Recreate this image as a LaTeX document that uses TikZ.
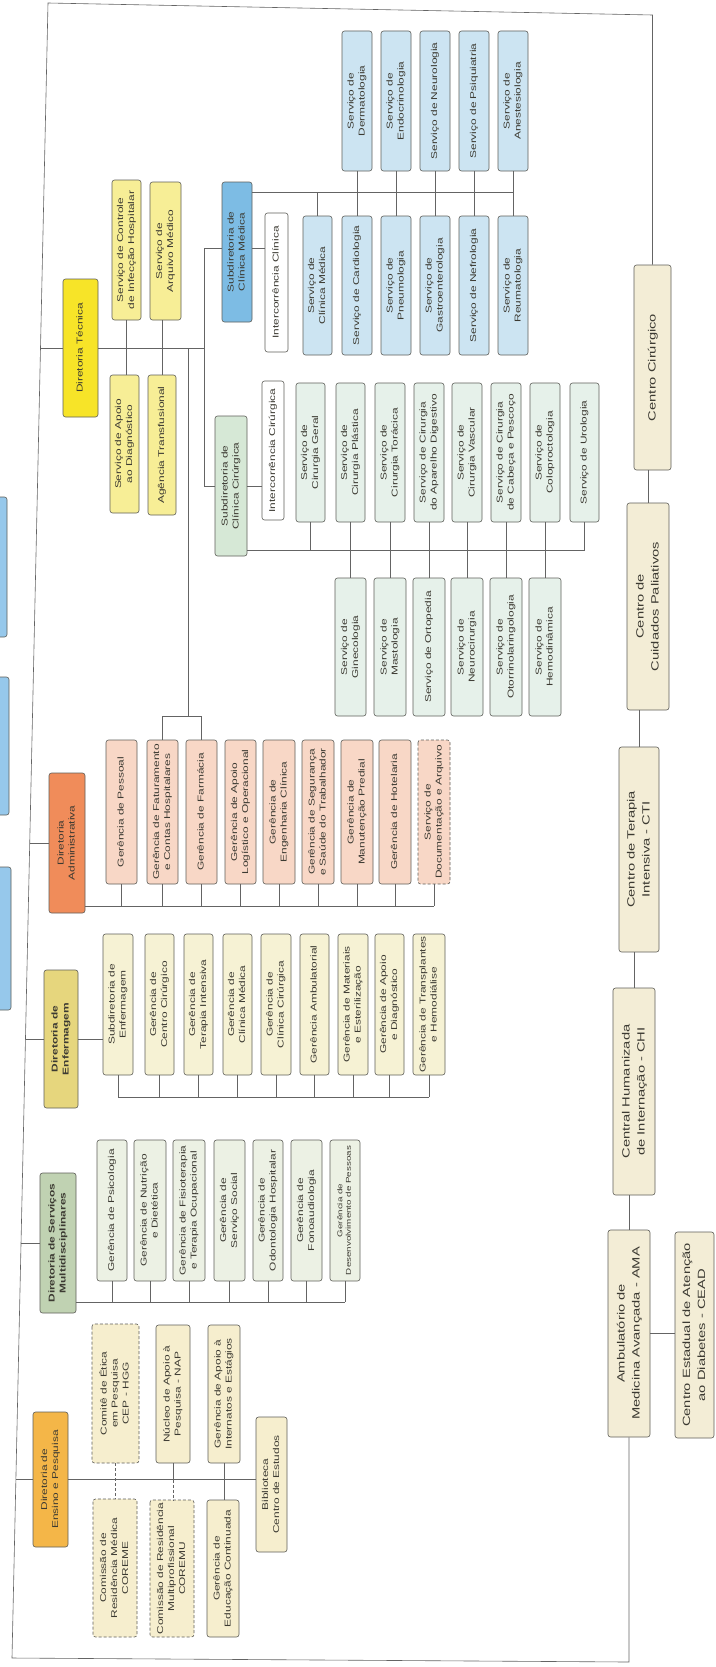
\documentclass[tikz,border=0pt]{standalone}
\usepackage{fontspec}
\usepackage{graphicx}
\setmainfont{Liberation Sans}
\usetikzlibrary{calc}
\definecolor{cDT}{RGB}{247,228,40}
\definecolor{cDTc}{RGB}{247,238,150}
\definecolor{cSCM}{RGB}{125,188,228}
\definecolor{cCM}{RGB}{204,228,242}
\definecolor{cSCC}{RGB}{214,232,214}
\definecolor{cCC}{RGB}{230,241,234}
\definecolor{cDA}{RGB}{240,140,90}
\definecolor{cDAc}{RGB}{248,215,198}
\definecolor{cDE}{RGB}{230,214,125}
\definecolor{cDEc}{RGB}{246,242,212}
\definecolor{cDM}{RGB}{192,210,178}
\definecolor{cDMc}{RGB}{236,241,228}
\definecolor{cDP}{RGB}{244,182,72}
\definecolor{cDPc}{RGB}{246,238,206}
\definecolor{cCen}{RGB}{243,237,214}
\definecolor{cEdge}{RGB}{150,200,235}
\definecolor{txt}{RGB}{60,58,50}
\definecolor{boxline}{RGB}{95,95,90}
\definecolor{linec}{RGB}{100,100,100}
\newcommand{\orgbox}[7]{\node[box,#6,minimum width={(#5-#3)*1pt},minimum height={(#4-#2)*1pt}] (#1) at ({(#2+#4)/2},{(#3+#5)/2}) {\scalebox{1.4}[1]{\begin{tabular}{@{}c@{}}#7\end{tabular}}};}
\begin{document}
\begin{tikzpicture}[x=1pt,y=-1pt,
  box/.style={draw=boxline, rounded corners=2.5pt, rotate=90, align=center, inner sep=1pt, text=txt, line width=0.6pt, font=\fontsize{8.5}{11}\selectfont},
  conn/.style={draw=linec, line width=0.6pt},
  dbox/.style={dashed, dash pattern=on 3pt off 2pt},
  small/.style={font=\fontsize{7}{8.5}\selectfont},
  big/.style={font=\fontsize{10.5}{15}\selectfont},
  heavy/.style={font=\fontsize{8.5}{11}\selectfont\bfseries}
]
\useasboundingbox[fill=white] (0,0) rectangle (715,1667);

% partial boxes at the left edge
\draw[boxline, line width=0.6pt, fill=cEdge, rounded corners=2.5pt] (-10,497) rectangle (7,637);
\draw[boxline, line width=0.6pt, fill=cEdge, rounded corners=2.5pt] (-10,677) rectangle (9,815);
\draw[boxline, line width=0.6pt, fill=cEdge, rounded corners=2.5pt] (-10,867) rectangle (11,1010);

% ---------- Diretoria Tecnica
\orgbox{DT}{63}{279}{98}{417}{fill=cDT}{Diretoria Técnica}
\orgbox{SCIH}{112}{180}{141}{320}{fill=cDTc}{Serviço de Controle\\de Infecção Hospitalar}
\orgbox{SAM}{150}{182}{181}{320}{fill=cDTc}{Serviço de\\Arquivo Médico}
\orgbox{SAD}{110}{375}{139}{513}{fill=cDTc}{Serviço de Apoio\\ao Diagnóstico}
\orgbox{AT}{148}{375}{176}{515}{fill=cDTc}{Agência Transfusional}

% ---------- Clinica Medica
\orgbox{SCM}{222}{182}{252}{322}{fill=cSCM}{Subdiretoria de\\Clínica Médica}
\orgbox{ICl}{265}{213}{288}{352}{fill=white}{Intercorrência Clínica}
\orgbox{SCMed}{303}{216}{332}{355}{fill=cCM}{Serviço de\\Clínica Médica}
\orgbox{Card}{342}{216}{372}{355}{fill=cCM}{Serviço de Cardiologia}
\orgbox{Pneu}{381}{216}{411}{355}{fill=cCM}{Serviço de\\Pneumologia}
\orgbox{Gast}{420}{216}{450}{355}{fill=cCM}{Serviço de\\Gastroenterologia}
\orgbox{Nefr}{459}{216}{489}{355}{fill=cCM}{Serviço de Nefrologia}
\orgbox{Reum}{498}{216}{528}{355}{fill=cCM}{Serviço de\\Reumatologia}
\orgbox{Derm}{342}{31}{372}{171}{fill=cCM}{Serviço de\\Dermatologia}
\orgbox{Endo}{381}{31}{411}{171}{fill=cCM}{Serviço de\\Endocrinologia}
\orgbox{Neur}{420}{31}{450}{171}{fill=cCM}{Serviço de Neurologia}
\orgbox{Psiq}{459}{31}{489}{171}{fill=cCM}{Serviço de Psiquiatria}
\orgbox{Anes}{498}{31}{528}{171}{fill=cCM}{Serviço de\\Anestesiologia}

% ---------- Clinica Cirurgica
\orgbox{SCC}{215}{416}{247}{556}{fill=cSCC}{Subdiretoria de\\Clínica Cirúrgica}
\orgbox{ICi}{262}{381}{284}{520}{fill=white}{Intercorrência Cirúrgica}
\orgbox{CGer}{296}{383}{325}{522}{fill=cCC}{Serviço de\\Cirurgia Geral}
\orgbox{CPla}{336}{383}{365}{522}{fill=cCC}{Serviço de\\Cirurgia Plástica}
\orgbox{CTor}{375}{383}{405}{522}{fill=cCC}{Serviço de\\Cirurgia Torácica}
\orgbox{CApD}{414}{383}{444}{522}{fill=cCC}{Serviço de Cirurgia\\do Aparelho Digestivo}
\orgbox{CVas}{452}{383}{482}{522}{fill=cCC}{Serviço de\\Cirurgia Vascular}
\orgbox{CCaP}{491}{383}{521}{522}{fill=cCC}{Serviço de Cirurgia\\de Cabeça e Pescoço}
\orgbox{Colo}{530}{383}{560}{522}{fill=cCC}{Serviço de\\Coloproctologia}
\orgbox{Uro}{570}{383}{599}{522}{fill=cCC}{Serviço de Urologia}
\orgbox{Gine}{335}{578}{366}{716}{fill=cCC}{Serviço de\\Ginecologia}
\orgbox{Mast}{374}{578}{406}{716}{fill=cCC}{Serviço de\\Mastologia}
\orgbox{Orto}{413}{578}{445}{716}{fill=cCC}{Serviço de Ortopedia}
\orgbox{NeuC}{451}{578}{483}{716}{fill=cCC}{Serviço de\\Neurocirurgia}
\orgbox{Otor}{490}{578}{522}{716}{fill=cCC}{Serviço de\\Otorrinolaringologia}
\orgbox{Hemo}{529}{578}{561}{716}{fill=cCC}{Serviço de\\Hemodinâmica}

% ---------- Administrativa
\orgbox{DA}{49}{773}{85}{913}{fill=cDA}{Diretoria\\Administrativa}
\orgbox{GPes}{106}{740}{137}{884}{fill=cDAc}{Gerência de Pessoal}
\orgbox{GFat}{147}{740}{178}{884}{fill=cDAc}{Gerência de Faturamento\\e Contas Hospitalares}
\orgbox{GFar}{186}{740}{217}{884}{fill=cDAc}{Gerência de Farmácia}
\orgbox{GApL}{225}{740}{256}{884}{fill=cDAc}{Gerência de Apoio\\Logístico e Operacional}
\orgbox{GEng}{263}{740}{295}{884}{fill=cDAc}{Gerência de\\Engenharia Clínica}
\orgbox{GSeg}{302}{740}{334}{884}{fill=cDAc}{Gerência de Segurança\\e Saúde do Trabalhador}
\orgbox{GMan}{341}{740}{373}{884}{fill=cDAc}{Gerência de\\Manutenção Predial}
\orgbox{GHot}{379}{740}{411}{884}{fill=cDAc}{Gerência de Hotelaria}
\orgbox{SDoc}{418}{740}{450}{884}{fill=cDAc,dbox}{Serviço de\\Documentação e Arquivo}

% ---------- Enfermagem
\orgbox{DE}{44}{970}{78}{1108}{fill=cDE,heavy}{Diretoria de\\Enfermagem}
\orgbox{SE}{103}{934}{133}{1075}{fill=cDEc}{Subdiretoria de\\Enfermagem}
\orgbox{GCC}{145}{934}{174}{1075}{fill=cDEc}{Gerência de\\Centro Cirúrgico}
\orgbox{GTI}{184}{934}{213}{1075}{fill=cDEc}{Gerência de\\Terapia Intensiva}
\orgbox{GCM}{223}{934}{252}{1075}{fill=cDEc}{Gerência de\\Clínica Médica}
\orgbox{GCCi}{261}{934}{291}{1075}{fill=cDEc}{Gerência de\\Clínica Cirúrgica}
\orgbox{GAmb}{300}{934}{329}{1075}{fill=cDEc}{Gerência Ambulatorial}
\orgbox{GMat}{338}{934}{368}{1075}{fill=cDEc}{Gerência de Materiais\\e Esterilização}
\orgbox{GApD}{375}{934}{404}{1075}{fill=cDEc}{Gerência de Apoio\\e Diagnóstico}
\orgbox{GTH}{413}{934}{445}{1075}{fill=cDEc}{Gerência de Transplantes\\e Hemodiálise}

% ---------- Multidisciplinares
\orgbox{DM}{40}{1173}{76}{1313}{fill=cDM,heavy}{Diretoria de Serviços\\Multidisciplinares}
\orgbox{GPsi}{97}{1140}{127}{1281}{fill=cDMc}{Gerência de Psicologia}
\orgbox{GNut}{134}{1140}{166}{1281}{fill=cDMc}{Gerência de Nutrição\\e Dietética}
\orgbox{GFis}{173}{1140}{205}{1281}{fill=cDMc}{Gerência de Fisioterapia\\e Terapia Ocupacional}
\orgbox{GSS}{214}{1140}{245}{1281}{fill=cDMc}{Gerência de\\Serviço Social}
\orgbox{GOdo}{253}{1140}{283}{1281}{fill=cDMc}{Gerência de\\Odontologia Hospitalar}
\orgbox{GFon}{291}{1140}{322}{1281}{fill=cDMc}{Gerência de\\Fonoaudiologia}
\orgbox{GDes}{330}{1140}{360}{1281}{fill=cDMc,small}{Gerência de\\Desenvolvimento de Pessoas}

% ---------- Ensino e Pesquisa
\orgbox{DP}{33}{1412}{68}{1547}{fill=cDP}{Diretoria de\\Ensino e Pesquisa}
\orgbox{CEP}{92}{1324}{139}{1463}{fill=cDPc,dbox}{Comitê de Ética\\em Pesquisa\\CEP - HGG}
\orgbox{NAP}{156}{1325}{190}{1463}{fill=cDPc}{Núcleo de Apoio à\\Pesquisa - NAP}
\orgbox{GAIE}{208}{1325}{240}{1463}{fill=cDPc}{Gerência de Apoio à\\Internatos e Estágios}
\orgbox{COREME}{93}{1499}{137}{1637}{fill=cDPc,dbox}{Comissão de\\Residência Médica\\COREME}
\orgbox{COREMU}{150}{1500}{194}{1637}{fill=cDPc,dbox}{Comissão de Residência\\Multiprofissional\\COREMU}
\orgbox{GEC}{207}{1500}{239}{1637}{fill=cDPc}{Gerência de\\Educação Continuada}
\orgbox{BIB}{256}{1417}{287}{1552}{fill=cDPc}{Biblioteca\\Centro de Estudos}

% ---------- right column
\orgbox{CC}{634}{265}{671}{470}{fill=cCen,big}{Centro Cirúrgico}
\orgbox{CCP}{627}{503}{669}{710}{fill=cCen,big}{Centro de\\Cuidados Paliativos}
\orgbox{CTI}{619}{747}{659}{952}{fill=cCen,big}{Centro de Terapia\\Intensiva - CTI}
\orgbox{CHI}{613}{988}{655}{1195}{fill=cCen,big}{Central Humanizada\\de Internação - CHI}
\orgbox{AMA}{608}{1230}{650}{1437}{fill=cCen,big}{Ambulatório de\\Medicina Avançada - AMA}
\orgbox{CEAD}{675}{1232}{714}{1438}{fill=cCen,big}{Centro Estadual de Atenção\\ao Diabetes - CEAD}

% ---------- frame coordinates
\coordinate (TL) at (48,3);
\coordinate (TR) at (652.5,15);
\coordinate (BL) at (12,1658);
\coordinate (BR) at (629,1662);
\coordinate (jT) at (40.5,348);
\coordinate (jA) at (29.7,843);
\coordinate (jE) at (25.5,1039);
\coordinate (jM) at (21,1243);
\coordinate (jP) at (15.9,1479.5);
\coordinate (vT) at (204,348);
\coordinate (vTa) at (204,248);
\coordinate (vTb) at (204,486);
\coordinate (vF) at (188,348);
\coordinate (vFb) at (188,716);
\coordinate (hCM) at (513,192);
\coordinate (hCC) at (584.5,550);
\coordinate (hA) at (434,906);
\coordinate (hE) at (429,1097);
\coordinate (hM) at (345,1302);

% ---------- frame and right column
\draw[conn] (CC.east) -- (TR) -- (TL) -- (BL) -- (BR) -- (AMA.west);
\draw[conn] (CCP.east |- CC.west) -- (CCP.east);
\draw[conn] (CTI.east |- CCP.west) -- (CTI.east);
\draw[conn] (CHI.east |- CTI.west) -- (CHI.east);
\draw[conn] (AMA.east |- CHI.west) -- (AMA.east);
\draw[conn] (AMA.south) -- (AMA.south -| CEAD.north);

% ---------- Diretoria Tecnica links
\draw[conn] (jT) -- (DT.north);
\draw[conn] (DT.south) -- (vT);
\draw[conn] (SCIH.west) -- (SCIH.west |- SAD.east);
\draw[conn] (AT.east |- SAM.west) -- (AT.east);
\draw[conn] (vTa) -- (vTb);
\draw[conn] (vTa) -- (SCM.north |- vTa);
\draw[conn] (SCM.south |- vTa) -- (ICl.north |- vTa);
\draw[conn] (vTb) -- (SCC.north);
\draw[conn] (SCC.south) -- (ICi.north |- SCC.south);
\draw[conn] (vF) -- (vFb);
\draw[conn] (GFat.east) -- (GFat.east |- vFb) -- (GFar.east |- vFb) -- (GFar.east);

% Clinica Medica
\draw[conn] (SCM.south |- hCM) -- (hCM);
\draw[conn] (SCMed.east) -- (SCMed.east |- hCM);
\draw[conn] (Derm.west) -- (Card.east);
\draw[conn] (Endo.west) -- (Pneu.east);
\draw[conn] (Neur.west) -- (Gast.east);
\draw[conn] (Psiq.west) -- (Nefr.east);
\draw[conn] (Anes.west) -- (Reum.east);

% Clinica Cirurgica
\draw[conn] (SCC.south |- hCC) -- (hCC);
\draw[conn] (CGer.west) -- (CGer.west |- hCC);
\draw[conn] (Uro.west) -- (Uro.west |- hCC);
\draw[conn] (CPla.west) -- (Gine.east);
\draw[conn] (CTor.west) -- (Mast.east);
\draw[conn] (CApD.west) -- (Orto.east);
\draw[conn] (CVas.west) -- (NeuC.east);
\draw[conn] (CCaP.west) -- (Otor.east);
\draw[conn] (Colo.west) -- (Hemo.east);

% Administrativa
\draw[conn] (jA) -- (DA.north);
\draw[conn] (DA.south |- hA) -- (hA);
\foreach \n in {GPes,GFat,GFar,GApL,GEng,GSeg,GMan,GHot,SDoc}
  \draw[conn] (\n.west) -- (\n.west |- hA);

% Enfermagem
\draw[conn] (jE) -- (DE.north);
\draw[conn] (DE.south) -- (DE.south -| SE.north);
\draw[conn] (SE.west) -- (SE.west |- hE) -- (hE);
\foreach \n in {GCC,GTI,GCM,GCCi,GAmb,GMat,GApD,GTH}
  \draw[conn] (\n.west) -- (\n.west |- hE);

% Multidisciplinares
\draw[conn] (jM) -- (DM.north);
\draw[conn] (DM.south |- hM) -- (hM);
\foreach \n in {GPsi,GNut,GFis,GSS,GOdo,GFon,GDes}
  \draw[conn] (\n.west) -- (\n.west |- hM);

% Ensino e Pesquisa
\draw[conn] (jP) -- (DP.north);
\draw[conn] (DP.south) -- (DP.south -| BIB.north);
\draw[conn, dbox] (CEP.west) -- (CEP.west |- COREME.east);
\draw[conn] (NAP.west) -- (NAP.west |- DP.south);
\draw[conn, dbox] (NAP.west |- DP.south) -- (NAP.west |- COREMU.east);
\draw[conn] (GAIE.west) -- (GAIE.west |- GEC.east);
\end{tikzpicture}
\end{document}
